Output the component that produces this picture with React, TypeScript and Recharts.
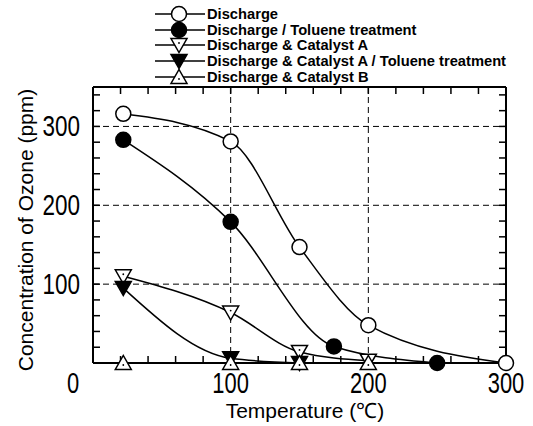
import React from 'react';
import { LineChart, Line, XAxis, YAxis, CartesianGrid } from 'recharts';

// Temperatures (°C) and ozone concentrations (ppm) per series
const dischargeTemp = [22, 100, 150, 200, 300];
const dischargeOzone = [316, 281, 147, 48, 0];

const tolueneTemp = [22, 100, 175, 250];
const tolueneOzone = [283, 179, 21, 0];

const catATemp = [22, 100, 150, 200];
const catAOzone = [110, 64, 14, 3];

const catATolueneTemp = [22, 100, 150];
const catATolueneOzone = [95, 6, 0];

const catBTemp = [22, 100, 150, 200];
const catBOzone = [0, 0, 0, 0];

const seriesNames = [
  'Discharge',
  'Discharge / Toluene treatment',
  'Discharge & Catalyst A',
  'Discharge & Catalyst A / Toluene treatment',
  'Discharge & Catalyst B',
];
const markerKinds = ['circleOpen', 'circleFilled', 'downOpen', 'downFilled', 'upOpen'];
// both axis pairs share the same domains; the top/right pair draws the frame
const seriesAxes = [
  ['bottom', 'left'],
  ['bottom', 'left'],
  ['bottom', 'left'],
  ['bottom', 'left'],
  ['top', 'right'],
];

const xLabelTicks = [0, 100, 200, 300];
const yLabelTicks = [100, 200, 300];
const gridValues = [100, 200, 300];
const xMinorTicks = [0, 20, 40, 60, 80, 100, 120, 140, 160, 180, 200, 220, 240, 260, 280, 300];
const yMinorTicks = [0, 20, 40, 60, 80, 100, 120, 140, 160, 180, 200, 220, 240, 260, 280, 300, 320, 340];

const toPoints = (xs: number[], ys: number[]) => xs.map((t, i) => ({ t, c: ys[i] }));

const seriesData = [
  toPoints(dischargeTemp, dischargeOzone),
  toPoints(tolueneTemp, tolueneOzone),
  toPoints(catATemp, catAOzone),
  toPoints(catATolueneTemp, catATolueneOzone),
  toPoints(catBTemp, catBOzone),
];

function Marker({ cx, cy, kind }: { cx: number; cy: number; kind: string }) {
  const sw = 1.5;
  if (kind === 'circleOpen' || kind === 'circleFilled') {
    return <circle cx={cx} cy={cy} r={7.5} fill={kind === 'circleOpen' ? '#fff' : '#000'} stroke="#000" strokeWidth={sw} />;
  }
  const down = kind.startsWith('down');
  const filled = kind.endsWith('Filled');
  const pts = down
    ? `${cx - 8},${cy - 6.5} ${cx + 8},${cy - 6.5} ${cx},${cy + 7.5}`
    : `${cx - 8},${cy + 6.5} ${cx + 8},${cy + 6.5} ${cx},${cy - 7.5}`;
  return (
    <g>
      <polygon points={pts} fill={filled ? '#000' : '#fff'} stroke="#000" strokeWidth={sw} strokeLinejoin="miter" />
      {!filled && <circle cx={cx} cy={down ? cy - 2 : cy + 2} r={0.9} fill="#000" />}
    </g>
  );
}

const tickFont = "'Liberation Sans', Arial, sans-serif";

function XTick(props: any) {
  const { x, y, payload } = props;
  const v = payload.value;
  if (!xLabelTicks.includes(v)) return null;
  const label = String(v);
  const shift = v === 0 ? -20 : 0;
  return (
    <text x={x + shift} y={y + 25} textAnchor="middle" dominantBaseline="central" fontSize={29}
      fontFamily={tickFont} textLength={label.length * 12.2} lengthAdjust="spacingAndGlyphs" fill="#000">
      {label}
    </text>
  );
}

function YTick(props: any) {
  const { x, y, payload } = props;
  const v = payload.value;
  if (!yLabelTicks.includes(v)) return null;
  const label = String(v);
  return (
    <text x={x - 18} y={y} textAnchor="end" dominantBaseline="central" fontSize={29}
      fontFamily={tickFont} textLength={label.length * 12.5} lengthAdjust="spacingAndGlyphs" fill="#000">
      {label}
    </text>
  );
}

const NoTick = () => null;

function LegendBox() {
  return (
    <div style={{ position: 'absolute', left: 155, top: 6, fontFamily: tickFont, fontWeight: 'bold', fontSize: 14.7 }}>
      {seriesNames.map((name, i) => (
        <div key={name} style={{ position: 'absolute', top: i * 15.7, left: 0, height: 16, display: 'flex', alignItems: 'center', whiteSpace: 'nowrap' }}>
          <svg width={52} height={16} style={{ overflow: 'visible' }}>
            <line x1={0} y1={8} x2={50} y2={8} stroke="#000" strokeWidth={1.5} />
            <Marker cx={24} cy={8} kind={markerKinds[i]} />
          </svg>
          <span style={{ lineHeight: '16px' }}>{name}</span>
        </div>
      ))}
    </div>
  );
}

const tickLineStyle = { stroke: '#000', strokeWidth: 1.5 };
const frameLine = { stroke: '#000', strokeWidth: 2 };

export default function App() {
  return (
    <div style={{ position: 'absolute', left: 0, top: 0, width: 533, height: 426, background: '#fff' }}>
      <LineChart width={533} height={426} margin={{ top: 86, right: 26, left: 0, bottom: 0 }}>
        <CartesianGrid
          xAxisId="bottom"
          yAxisId="left"
          horizontalValues={gridValues}
          verticalValues={gridValues}
          stroke="#000"
          strokeWidth={1}
          strokeDasharray="6 4"
          fill="none"
        />
        <XAxis
          xAxisId="bottom"
          orientation="bottom"
          dataKey="t"
          type="number"
          domain={[0, 300]}
          ticks={xMinorTicks}
          interval={0}
          height={63}
          tickSize={-7}
          tickLine={tickLineStyle}
          axisLine={frameLine}
          tick={<XTick />}
          label={{
            content: () => (
              <text x={305} y={410} textAnchor="middle" dominantBaseline="central" fontSize={21} fontFamily={tickFont} fill="#000">
                Temperature (℃)
              </text>
            ),
          }}
        />
        <YAxis
          yAxisId="left"
          orientation="left"
          type="number"
          domain={[0, 350]}
          ticks={yMinorTicks}
          interval={0}
          width={93}
          tickSize={-7}
          tickLine={tickLineStyle}
          axisLine={frameLine}
          tick={<YTick />}
          label={{
            content: () => (
              <text x={25} y={230} transform="rotate(-90 25 230)" textAnchor="middle" dominantBaseline="central" fontSize={21} fontFamily={tickFont} fill="#000">
                Concentration of Ozone (ppm)
              </text>
            ),
          }}
        />
        <XAxis
          xAxisId="top"
          orientation="top"
          dataKey="t"
          type="number"
          domain={[0, 300]}
          ticks={xMinorTicks}
          interval={0}
          height={1}
          tickSize={-7}
          tickLine={tickLineStyle}
          axisLine={frameLine}
          tick={<NoTick />}
        />
        <YAxis
          yAxisId="right"
          orientation="right"
          type="number"
          domain={[0, 350]}
          ticks={yMinorTicks}
          interval={0}
          width={1}
          tickSize={-7}
          tickLine={tickLineStyle}
          axisLine={frameLine}
          tick={<NoTick />}
        />
        {seriesData.map((data, i) => (
          <Line
            key={seriesNames[i]}
            xAxisId={seriesAxes[i][0]}
            yAxisId={seriesAxes[i][1]}
            data={data}
            dataKey="c"
            name={seriesNames[i]}
            type="monotone"
            stroke="#000"
            strokeWidth={1.5}
            isAnimationActive={false}
            activeDot={false}
            dot={(p: any) => <Marker key={`${i}-${p.index}`} cx={p.cx} cy={p.cy} kind={markerKinds[i]} />}
          />
        ))}
      </LineChart>
      <LegendBox />
    </div>
  );
}
